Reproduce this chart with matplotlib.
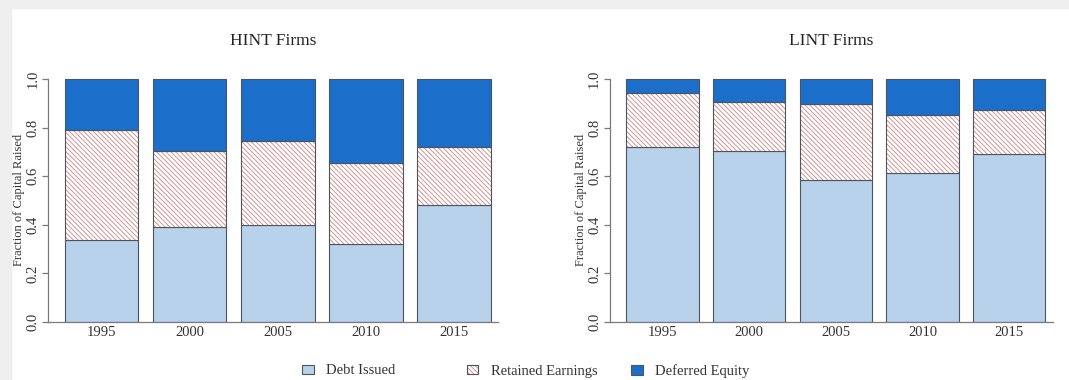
import numpy as np
import matplotlib
matplotlib.use("Agg")
import matplotlib.pyplot as plt
from matplotlib.patches import Patch, Rectangle

# data (shares of capital raised)
years = ["1995", "2000", "2005", "2010", "2015"]
hint_debt = [0.337, 0.392, 0.400, 0.322, 0.480]
hint_retained = [0.454, 0.310, 0.343, 0.332, 0.242]
hint_deferred = [0.209, 0.298, 0.257, 0.346, 0.278]
lint_debt = [0.720, 0.702, 0.586, 0.613, 0.691]
lint_retained = [0.221, 0.203, 0.313, 0.239, 0.183]
lint_deferred = [0.059, 0.095, 0.101, 0.148, 0.126]
legend_labels = ["Debt Issued", "Retained Earnings", "Deferred Equity"]

plt.rcParams["font.family"] = ["Liberation Serif", "DejaVu Serif"]
plt.rcParams["hatch.linewidth"] = 0.6

c_debt = "#b9d2ec"
c_def = "#1b6fcb"
c_hatch = "#d08585"
c_edge = "#4a5560"
c_axis = "#7a7a7a"
hatch = "\\" * 7

fig = plt.figure(figsize=(10.69, 3.80), dpi=100)
fig.patches.append(Rectangle((0, 372 / 380), 1, 8 / 380, transform=fig.transFigure,
                             color="#efefef", zorder=-5))
fig.patches.append(Rectangle((0, 0), 11 / 1069, 1, transform=fig.transFigure,
                             color="#efefef", zorder=-5))

x = 0.7 + 1.2 * np.arange(len(years))


def panel(rect, title, debt, retained, deferred):
    ax = fig.add_axes(rect)
    debt = np.array(debt)
    retained = np.array(retained)
    deferred = np.array(deferred)
    ax.bar(x, debt, width=1, color=c_debt, edgecolor=c_edge, linewidth=0.8)
    # hatch first, outline on top
    ax.bar(x, retained, bottom=debt, width=1, facecolor="white", edgecolor=c_hatch,
           hatch=hatch, linewidth=0)
    ax.bar(x, retained, bottom=debt, width=1, fill=False, edgecolor=c_edge, linewidth=0.8)
    ax.bar(x, deferred, bottom=debt + retained, width=1, color=c_def,
           edgecolor=c_edge, linewidth=0.8)
    ax.set_xlim(-0.032, 6.1)
    ax.set_ylim(0, 1.004)
    for s in ["top", "right"]:
        ax.spines[s].set_visible(False)
    ax.spines["left"].set_bounds(0, 1)
    for s in ["left", "bottom"]:
        ax.spines[s].set_color(c_axis)
        ax.spines[s].set_linewidth(0.9)
    ax.set_yticks([0, 0.2, 0.4, 0.6, 0.8, 1.0])
    ax.set_yticklabels(["0.0", "0.2", "0.4", "0.6", "0.8", "1.0"], rotation=90, va="center")
    ax.tick_params(axis="y", length=4, width=0.9, color=c_axis, pad=2,
                   labelsize=10.5, labelcolor="#333333")
    ax.set_xticks(x)
    ax.set_xticklabels(years)
    ax.tick_params(axis="x", length=0, pad=3, labelsize=10.5, labelcolor="#333333")
    ax.set_ylabel("Fraction of Capital Raised", fontsize=9, color="#333333", labelpad=1)
    ax.set_title(title, fontsize=12.5, color="#222222", pad=24)
    return ax


panel([48 / 1069, 58 / 380, 450 / 1069, 244 / 380], "HINT Firms",
      hint_debt, hint_retained, hint_deferred)
panel([609.5 / 1069, 58 / 380, 443 / 1069, 244 / 380], "LINT Firms",
      lint_debt, lint_retained, lint_deferred)

# legend: three equally spaced entries
h_debt = Patch(facecolor=c_debt, edgecolor=c_edge, linewidth=0.8)
h_ret = (Patch(facecolor="white", edgecolor=c_hatch, hatch=hatch, linewidth=0),
         Patch(fill=False, edgecolor=c_edge, linewidth=0.8))
h_def = Patch(facecolor=c_def, edgecolor=c_edge, linewidth=0.8)
handles = [h_debt, h_ret, h_def]
for i, (h, lab) in enumerate(zip(handles, legend_labels)):
    fig.legend([h], [lab], loc="center left",
               bbox_to_anchor=((302 + 164.5 * i) / 1069, 1 - 371 / 380),
               frameon=False, fontsize=10.5, handlelength=0.8, handleheight=0.65,
               handletextpad=0.85, borderpad=0, borderaxespad=0,
               labelcolor="#333333")

fig.savefig("out.png", dpi=100, facecolor="white")
